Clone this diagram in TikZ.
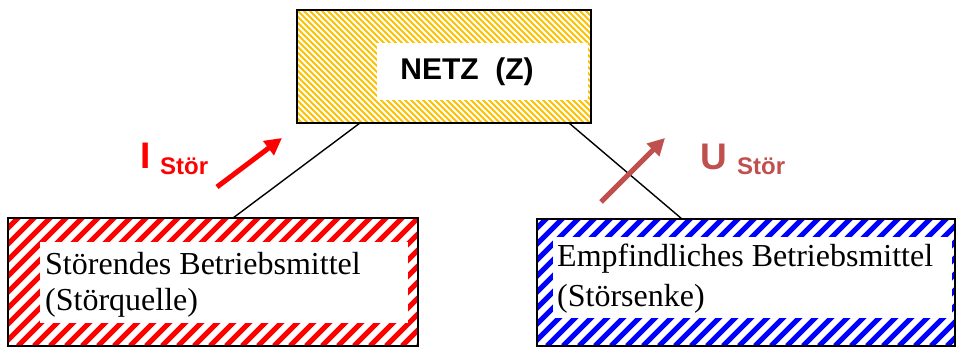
\documentclass[tikz,border=0pt]{standalone}
\usepackage{fontspec}
\setmainfont{Liberation Serif}
\newfontfamily\arialf{Liberation Sans}
\usetikzlibrary{calc,arrows.meta}
\definecolor{netzyellow}{RGB}{255,192,0}
\definecolor{ubrown}{RGB}{192,80,77}
\begin{document}
\begin{tikzpicture}[x=1pt,y=-1pt,
  boxframe/.style={draw=black, line width=2pt, inner sep=0pt, outer sep=0pt},
  whitebox/.style={fill=white, draw=none},
  boxtext/.style={anchor=base west, inner sep=0pt, font=\fontsize{32}{36}\selectfont},
  conn/.style={draw=black, line width=1.4pt},
  bigsym/.style={anchor=base west, inner sep=0pt, font=\arialf\bfseries\fontsize{37}{40}\selectfont},
  subsym/.style={anchor=base west, inner sep=0pt, font=\arialf\bfseries\fontsize{24}{28}\selectfont},
  sarrow/.style={line width=5pt, -{Triangle[length=17pt,width=17pt]}}
]
\useasboundingbox (0,0) rectangle (961,347);

% box nodes (frames drawn later)
\node[inner sep=0pt, outer sep=0pt, minimum width=294pt, minimum height=113pt] (netz) at (444,66.5) {};
\node[inner sep=0pt, outer sep=0pt, minimum width=410pt, minimum height=128pt] (quelle) at (213,282) {};
\node[inner sep=0pt, outer sep=0pt, minimum width=418pt, minimum height=127pt] (senke) at (746,282.5) {};

% yellow hatching
\begin{scope}
  \clip (netz.south west) rectangle (netz.north east);
  \foreach \i in {0,6,...,420}
    \draw[netzyellow, line width=1.9pt] ($(netz.north west)+(\i-120,0)$) -- ++(120,120);
\end{scope}
\fill[whitebox] (377,43) rectangle (588,100);

% red hatching
\begin{scope}
  \clip (quelle.south west) rectangle (quelle.north east);
  \foreach \i in {0,16,...,576}
    \draw[red, line width=5pt] ($(quelle.south west)+(\i-150,0)$) -- ++(150,-150);
\end{scope}
\fill[whitebox] (40,242) rectangle (408,323);

% blue hatching
\begin{scope}
  \clip (senke.south west) rectangle (senke.north east);
  \foreach \i in {0,16,...,576}
    \draw[blue, line width=5pt] ($(senke.south west)+(\i-150,0)$) -- ++(150,-150);
\end{scope}
\fill[whitebox] (553,237) rectangle (952,318);

% frames
\draw[boxframe] (netz.south west) rectangle (netz.north east);
\draw[boxframe] (quelle.south west) rectangle (quelle.north east);
\draw[boxframe] (senke.south west) rectangle (senke.north east);

% texts
\node[anchor=center, inner sep=0pt, font=\arialf\bfseries\fontsize{30}{34}\selectfont] (netzlabel) at (467,72) {NETZ\ \ (Z)};
\node[boxtext] (q1) at (45,275) {Störendes Betriebsmittel};
\node[boxtext] (q2) at (45,310) {(Störquelle)};
\node[boxtext] (s1) at (557,267) {Empfindliches Betriebsmittel};
\node[boxtext] (s2) at (557,306) {(Störsenke)};

% connectors
\draw[conn] ($(netz.south west)+(63,0)$) -- ($(quelle.north west)+(225,0)$);
\draw[conn] ($(netz.south west)+(272,0)$) -- ($(senke.north west)+(145,0)$);

% disturbance arrows
\coordinate (ia) at (217,187);
\coordinate (ib) at (282,138);
\coordinate (ua) at (601,202);
\coordinate (ub) at (665,138);
\draw[sarrow, red] (ia) -- (ib);
\draw[sarrow, ubrown] (ua) -- (ub);

\node[bigsym, text=red] (isym) at (140,169) {I};
\node[subsym, text=red] (isub) at (160,175) {Stör};
\node[bigsym, text=ubrown] (usym) at (700,170) {U};
\node[subsym, text=ubrown] (usub) at (737,175) {Stör};
\end{tikzpicture}
\end{document}
